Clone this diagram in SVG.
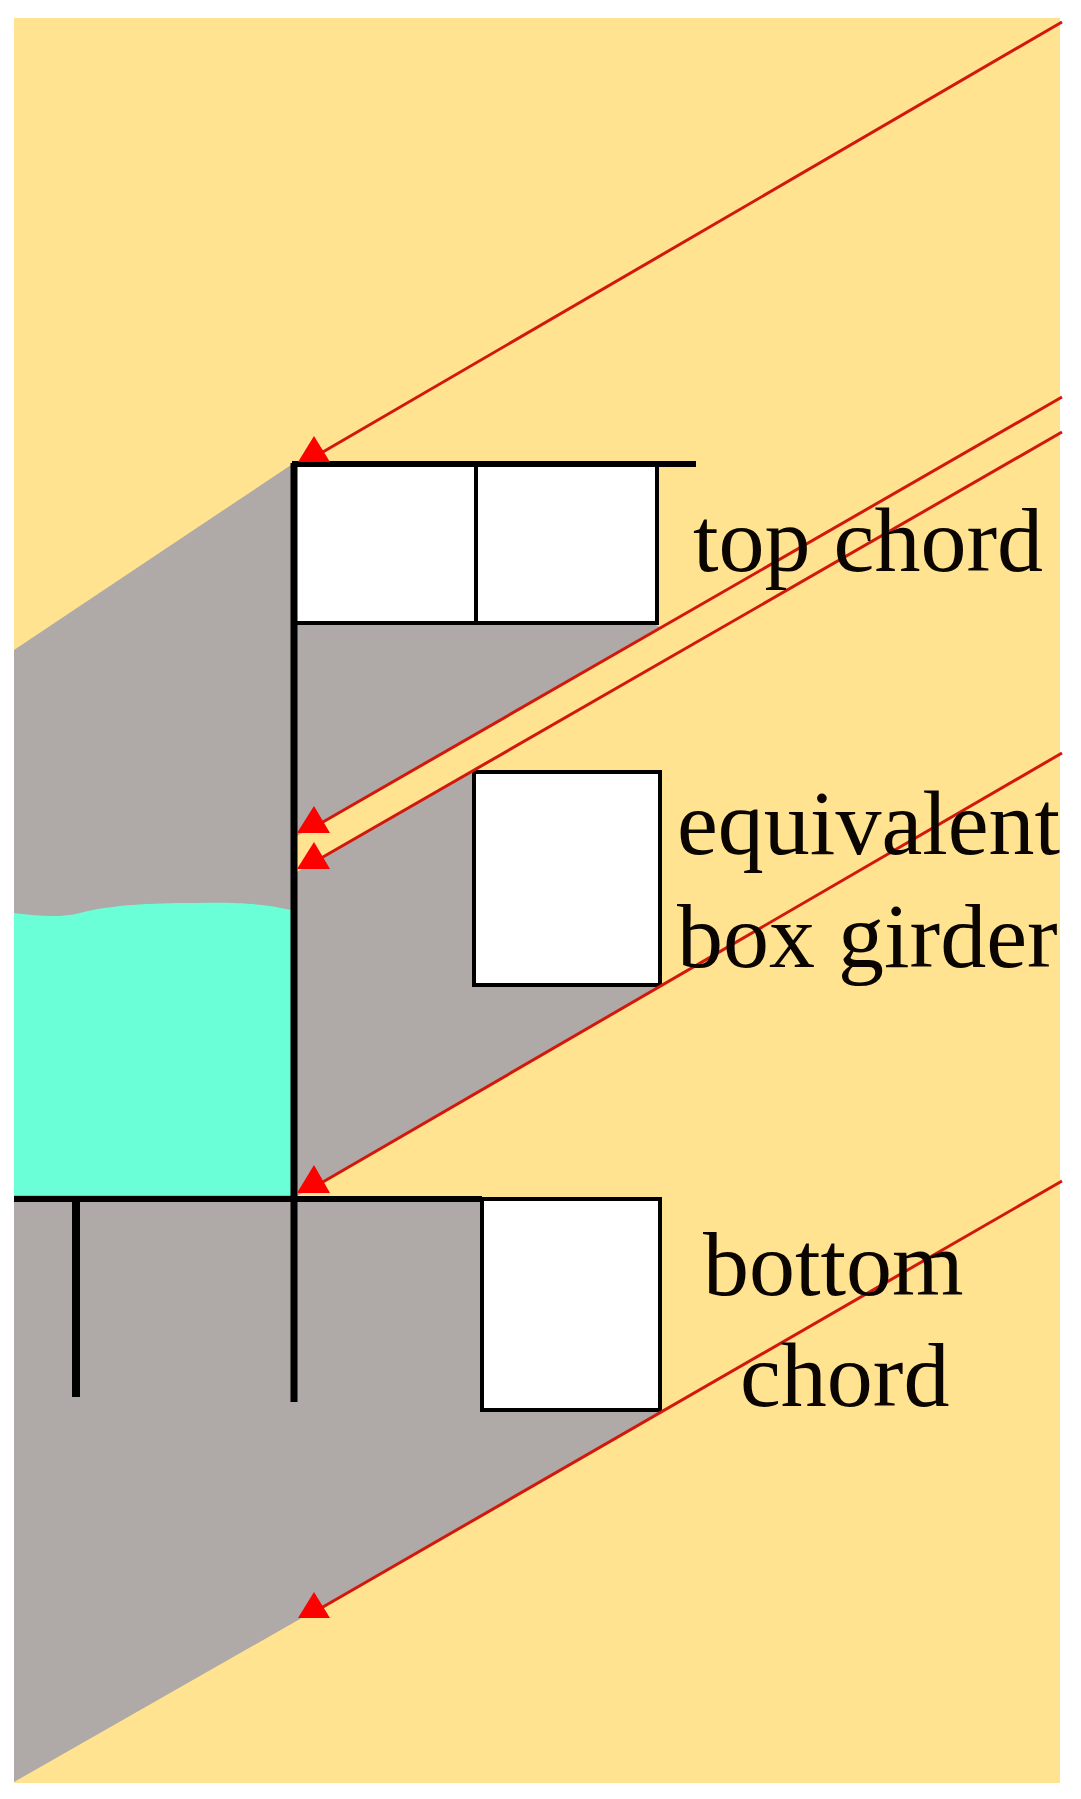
<svg xmlns="http://www.w3.org/2000/svg" width="1081" height="1799" viewBox="0 0 1081 1799">
<style>
.box{fill:#fff;stroke:#000;stroke-width:4}
.bar{stroke:#000;fill:none}
.ray{stroke:#d2180c;stroke-width:3;fill:none}
.head{fill:#ff0000}
text{font-family:"Liberation Serif","Times New Roman",serif;font-size:92px;fill:#0a0500}
</style>
<rect width="1081" height="1799" fill="#fff"/>
<rect id="background" x="14" y="18" width="1046" height="1765" fill="#ffe390"/>
<polygon id="shadow" fill="#afa9a7" points="14,650 294,463 660,627 297,836 297,872 475,770 475,985 660,985 297,1196 482,1199 660,1412 300,1619 14,1782"/>
<path id="water" fill="#6affd6" d="M14,913 C40,916 60,918 80,913 C110,905 150,903 195,903 C240,902 265,904 291,910 L291,1195 L14,1195 Z"/>
<g id="top-chord">
<rect class="box" x="294" y="463" width="182" height="160"/>
<rect class="box" x="476" y="463" width="181" height="160"/>
<path class="bar" stroke-width="6" d="M294,464 H696"/>
</g>
<rect id="equivalent-box-girder" class="box" x="474" y="772" width="186" height="213"/>
<rect id="bottom-chord" class="box" x="482" y="1199" width="178" height="211"/>
<g id="structure">
<path class="bar" stroke-width="7" d="M294,463 V1402"/>
<path class="bar" stroke-width="6" d="M14,1199 H482"/>
<path class="bar" stroke-width="8" d="M76,1199 V1397"/>
</g>
<g id="connectors">
<path class="ray" d="M1062,22 L316,456"/>
<path class="ray" d="M1062,397 L316,826"/>
<path class="ray" d="M1062,432 L316,861"/>
<path class="ray" d="M1062,753 L316,1186"/>
<path class="ray" d="M1062,1181 L316,1611"/>
<polygon class="head" points="314,436 330,462 298,462"/>
<polygon class="head" points="314,806 330,833 297,833"/>
<polygon class="head" points="314,842 330,869 297,869"/>
<polygon class="head" points="314,1165 330,1193 297,1193"/>
<polygon class="head" points="314,1592 330,1618 298,1618"/>
</g>
<g id="labels">
<text x="693" y="571">top chord</text>
<text x="677" y="854">equivalent</text>
<text x="677" y="967">box girder</text>
<text x="703" y="1295">bottom</text>
<text x="740" y="1406">chord</text>
</g>
</svg>
